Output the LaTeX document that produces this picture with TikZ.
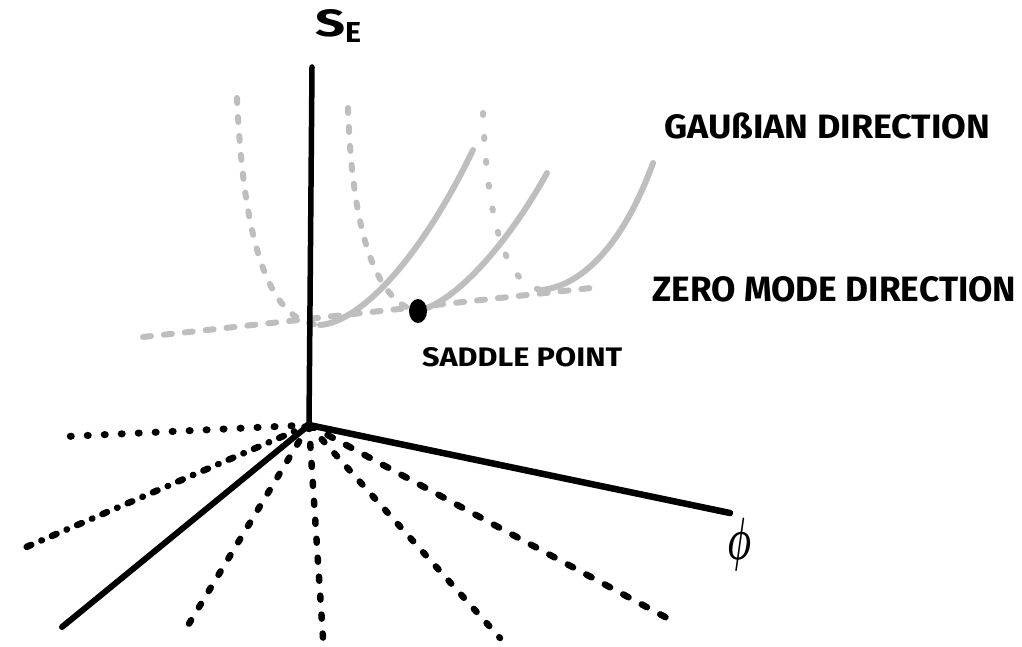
\documentclass[tikz,border=0pt]{standalone}
\usepackage{fontspec}
\setmainfont{Fira Sans}
\usepackage{graphicx}
\usepackage{bm}
\usetikzlibrary{shapes.geometric}
\definecolor{curvegray}{HTML}{BEBEBE}
\tikzset{
  axisline/.style={line width=5.5pt, line cap=round, line join=round},
  rayline/.style={line width=6.5pt, line cap=round},
  dotray/.style={rayline, line width=7pt, dash pattern=on 1pt off 16pt},
  dashray/.style={rayline, dash pattern=on 4pt off 15pt},
  longdashray/.style={rayline, dash pattern=on 6pt off 15pt},
  dashdotray/.style={rayline, dash pattern=on 5pt off 11pt on 0.5pt off 11pt},
  graysolid/.style={draw=curvegray, line width=6pt, line cap=round},
  graydash/.style={graysolid, dash pattern=on 5pt off 14pt},
  graydot/.style={graysolid, dash pattern=on 2pt off 22pt},
  zerodash/.style={graysolid, dash pattern=on 8pt off 13pt},
  txt/.style={inner sep=0pt, font=\bfseries},
  saddledot/.style={ellipse, fill=black, inner sep=0pt, minimum width=18pt, minimum height=24pt},
}
\begin{document}
\begin{tikzpicture}[x=1pt,y=-1pt]
\useasboundingbox (0,0) rectangle (1022,647);

% key points
\coordinate (O) at (309,425);
\coordinate (top) at (312,67);
\coordinate (phiend) at (730,513);
\coordinate (solidend) at (62,627);
\coordinate (r1) at (55,437);
\coordinate (r2) at (17,551);
\coordinate (r3) at (187,627);
\coordinate (r4) at (323,638);
\coordinate (r5) at (500,638);
\coordinate (r6) at (667,618);

% zero mode direction line
\coordinate (zl) at (143,337);
\coordinate (zr) at (600,287);
\draw[zerodash] (zl) -- (zr);

% parabola 1
\coordinate (p1top) at (237,98);
\coordinate (p1bot) at (320,325);
\coordinate (p1end) at (473,150);
\draw[graydash] (p1top) .. controls (243,230) and (265,322) .. (p1bot);
\draw[graysolid] (p1bot) .. controls (360,322) and (420,260) .. (p1end);

% parabola 2
\coordinate (p2top) at (348,108);
\coordinate (p2bot) at (416,311);
\coordinate (p2end) at (547,173);
\draw[graydash] (p2top) .. controls (352,230) and (375,300) .. (p2bot);
\draw[graysolid] (p2bot) .. controls (455,305) and (510,240) .. (p2end);

% parabola 3
\coordinate (p3top) at (483,113);
\coordinate (p3bot) at (542,290);
\coordinate (p3end) at (653,163);
\draw[graydot] (p3top) .. controls (487,220) and (505,285) .. (p3bot);
\draw[graysolid] (p3bot) .. controls (585,285) and (625,240) .. (p3end);

% saddle point
\node[saddledot] (sp) at (418,311) {};

% axes
\draw[axisline] (O) -- (top);
\draw[axisline, line width=6.5pt] (O) -- (phiend);
\draw[axisline, line width=6pt] (O) -- (solidend);

% rays
\draw[dotray] (O) -- (r1);
\draw[dashdotray] (O) -- (r2);
\draw[dashray] (O) -- (r3);
\draw[dashray] (O) -- (r4);
\draw[dashray] (O) -- (r5);
\draw[longdashray] (O) -- (r6);

% labels
\node[txt, anchor=base west] (se) at (315,37)
  {\resizebox{30pt}{27pt}{S}\raisebox{-6pt}{\resizebox{16pt}{20pt}{E}}};
\node[txt, anchor=west] (gauss) at (664,127)
  {\resizebox{326pt}{24pt}{GAU\smash{ß}IAN DIRECTION}};
\node[txt, anchor=west] (zero) at (652,289)
  {\resizebox{364pt}{25pt}{ZERO MODE DIRECTION}};
\node[txt, anchor=west] (saddle) at (422,357)
  {\resizebox{200pt}{19pt}{SADDLE POINT}};
\node[inner sep=0pt] (phi) at (739,545) {\resizebox*{24pt}{53pt}{$\bm{\phi}$}};
\end{tikzpicture}
\end{document}
